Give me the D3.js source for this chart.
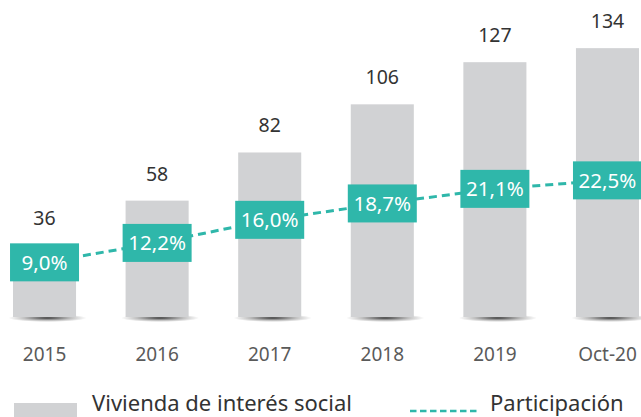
<!DOCTYPE html>
<html>
<head>
<meta charset="utf-8">
<script src="https://cdnjs.cloudflare.com/ajax/libs/d3/7.8.5/d3.min.js"></script>
<style>
  body { margin: 0; background: #fff; }
  svg { display: block; font-family: "Noto Sans", "Open Sans", sans-serif; }
</style>
</head>
<body>
<script>
var width = 641;
var height = 417;

var categories = ["2015", "2016", "2017", "2018", "2019", "Oct-20"];
var vivienda = [36, 58, 82, 106, 127, 134];
var participacion = [9.0, 12.2, 16.0, 18.7, 21.1, 22.5];

var teal = "#2fb7aa";
var grey = "#d1d2d4";
var baseY = 317;

var svg = d3.select("body").append("svg")
    .attr("width", width)
    .attr("height", height);

var x = d3.scaleBand()
    .domain(categories)
    .range([13, 639])
    .paddingInner(0.44)
    .paddingOuter(0);

var y = d3.scaleLinear()
    .domain([0, 158])
    .range([baseY, 0]);

var y2 = d3.scaleLinear()
    .domain([0, 52.2])
    .range([baseY, 0]);

// shadow under the bars
var defs = svg.append("defs");
var grad = defs.append("radialGradient").attr("id", "shadow");
grad.append("stop").attr("offset", "0%").attr("stop-color", "#000").attr("stop-opacity", 0.75);
grad.append("stop").attr("offset", "60%").attr("stop-color", "#000").attr("stop-opacity", 0.25);
grad.append("stop").attr("offset", "100%").attr("stop-color", "#000").attr("stop-opacity", 0);

svg.selectAll(".shadow")
    .data(categories)
  .enter().append("ellipse")
    .attr("cx", function(d) { return x(d) + x.bandwidth() / 2 + 3; })
    .attr("cy", baseY + 1)
    .attr("rx", x.bandwidth() * 0.62)
    .attr("ry", 4)
    .style("fill", "url(#shadow)");

svg.selectAll(".bar")
    .data(vivienda)
  .enter().append("rect")
    .attr("x", function(d, i) { return x(categories[i]); })
    .attr("y", function(d) { return y(d); })
    .attr("width", x.bandwidth())
    .attr("height", function(d) { return baseY - y(d); })
    .style("fill", grey);

svg.selectAll(".val")
    .data(vivienda)
  .enter().append("text")
    .attr("x", function(d, i) { return x(categories[i]) + x.bandwidth() / 2; })
    .attr("y", function(d) { return y(d) - 20; })
    .attr("text-anchor", "middle")
    .style("font-size", "19.5px")
    .style("fill", "#333")
    .text(function(d) { return d; });

// participacion line
var line = d3.line()
    .x(function(d, i) { return x(categories[i]) + x.bandwidth() / 2; })
    .y(function(d) { return y2(d); });

svg.append("path")
    .datum(participacion)
    .attr("d", line)
    .style("fill", "none")
    .style("stroke", teal)
    .style("stroke-width", 3)
    .style("stroke-dasharray", "8,5");

var boxW = 69, boxH = 38;
svg.selectAll(".box")
    .data(participacion)
  .enter().append("rect")
    .attr("x", function(d, i) { return x(categories[i]) + x.bandwidth() / 2 - boxW / 2; })
    .attr("y", function(d) { return y2(d) - boxH / 2; })
    .attr("width", boxW)
    .attr("height", boxH)
    .style("fill", teal);

svg.selectAll(".pct")
    .data(participacion)
  .enter().append("text")
    .attr("x", function(d, i) { return x(categories[i]) + x.bandwidth() / 2; })
    .attr("y", function(d) { return y2(d) + 7.5; })
    .attr("text-anchor", "middle")
    .style("font-size", "20.5px")
    .style("fill", "#fff")
    .text(function(d) { return d.toFixed(1).replace(".", ",") + "%"; });

// x axis labels
var xAxis = svg.append("g")
    .attr("transform", "translate(0,361)")
    .call(d3.axisBottom(x).tickSize(0).tickPadding(0));
xAxis.select(".domain").remove();
xAxis.selectAll("text")
    .attr("y", 0)
    .attr("dy", "0")
    .style("font-size", "19px")
    .style("font-family", "\"Noto Sans\", sans-serif")
    .style("fill", "#5a5a5a");

// legend
var legend = svg.append("g");
legend.append("rect")
    .attr("x", 14).attr("y", 403)
    .attr("width", 63).attr("height", 16)
    .style("fill", grey);
legend.append("text")
    .attr("x", 92).attr("y", 411)
    .style("font-size", "22px")
    .style("fill", "#333")
    .text("Vivienda de interés social");
legend.append("line")
    .attr("x1", 410).attr("x2", 479)
    .attr("y1", 411).attr("y2", 411)
    .style("stroke", teal)
    .style("stroke-width", 2.5)
    .style("stroke-dasharray", "6.5,3.5");
legend.append("text")
    .attr("x", 490).attr("y", 411)
    .style("font-size", "22px")
    .style("fill", "#333")
    .text("Participación");
</script>
</body>
</html>
